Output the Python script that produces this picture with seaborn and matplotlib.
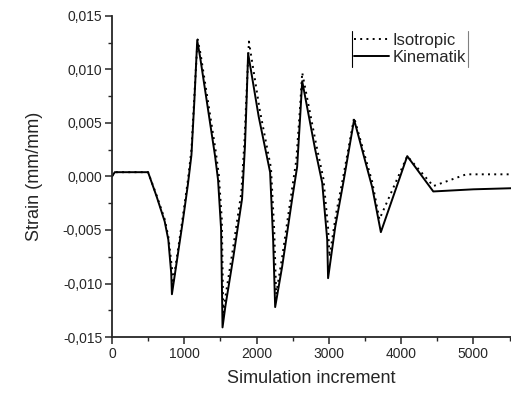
import numpy as np
import pandas as pd
import matplotlib
matplotlib.use("Agg")
import matplotlib.pyplot as plt
import matplotlib.ticker as mticker
from matplotlib.lines import Line2D
import seaborn as sns

# Kinematik hardening (solid)
kin_x = [0, 40, 500, 620, 730, 780, 820, 830, 980, 1050, 1100, 1140, 1180,
         1219, 1427, 1468, 1510, 1530,
         1570, 1680, 1800, 1840, 1865, 1884,
         2030, 2188, 2230, 2258, 2355, 2493, 2562, 2604, 2632,
         2812, 2909, 2978, 2990, 3089, 3200, 3350, 3600, 3720,
         4085, 4445, 5000, 5520]
kin_y = [0.0, 0.0004, 0.0004, -0.0019, -0.0042, -0.0059, -0.0090, -0.0110, -0.0042, -0.0008, 0.0020, 0.0070, 0.0127,
         0.0112, 0.0019, -0.0003, -0.0049, -0.0141,
         -0.0121, -0.0075, -0.0021, 0.0028, 0.0075, 0.0115,
         0.0056, 0.0004, -0.0059, -0.0122, -0.0084, -0.0021, 0.0009, 0.0056, 0.0089,
         0.0025, -0.0006, -0.0059, -0.0095, -0.0047, -0.0006, 0.0053, -0.0010, -0.0052,
         0.0019, -0.0014, -0.0012, -0.0011]

# Isotropic hardening (dotted)
iso_x = [0, 40, 500, 620, 730, 780, 830, 845, 980, 1050, 1100, 1140, 1185,
         1225, 1435, 1478, 1520, 1540,
         1580, 1680, 1790, 1835, 1865, 1895,
         2045, 2200, 2245, 2272, 2360, 2480, 2550, 2600, 2632,
         2825, 2925, 2990, 3010, 3100, 3200, 3350, 3600, 3700,
         4085, 4445, 4900, 5520]
iso_y = [0.0, 0.0004, 0.0004, -0.0018, -0.0040, -0.0056, -0.0085, -0.0100, -0.0038, -0.0004, 0.0025, 0.0075, 0.0128,
         0.0115, 0.0024, 0.0002, -0.0040, -0.0127,
         -0.0108, -0.0065, -0.0015, 0.0035, 0.0082, 0.0126,
         0.0062, 0.0008, -0.0050, -0.0110, -0.0073, -0.0017, 0.0015, 0.0062, 0.0097,
         0.0030, -0.0002, -0.0048, -0.0075, -0.0035, 0.0000, 0.0055, -0.0005, -0.0040,
         0.0019, -0.0009, 0.0002, 0.0002]

x_ticks = [0, 1000, 2000, 3000, 4000, 5000]
y_ticks = [-0.015, -0.010, -0.005, 0.000, 0.005, 0.010, 0.015]

df = pd.concat([
    pd.DataFrame({"inc": iso_x, "strain": iso_y, "model": "Isotropic"}),
    pd.DataFrame({"inc": kin_x, "strain": kin_y, "model": "Kinematik"}),
])

sns.set_style("ticks")
plt.rcParams["font.family"] = ["Liberation Sans", "DejaVu Sans"]

fig = plt.figure(figsize=(5.11, 3.97), dpi=100)
ax = fig.add_axes([0.219, 0.151, 0.781, 0.809])

sns.lineplot(data=df, x="inc", y="strain", style="model", sort=False,
             dashes={"Isotropic": (1, 2.2), "Kinematik": ""},
             color="black", linewidth=1.4, estimator=None, legend=False, ax=ax)

ax.set_xlim(0, 5520)
ax.set_ylim(-0.015, 0.015)
ax.set_xticks(x_ticks)
ax.set_yticks(y_ticks)
ax.xaxis.set_minor_locator(mticker.MultipleLocator(500))
ax.yaxis.set_minor_locator(mticker.MultipleLocator(0.0025))
ax.yaxis.set_major_formatter(mticker.FuncFormatter(lambda v, p: f"{v:.3f}".replace(".", ",").replace("-0,000", "0,000")))
ax.tick_params(which="major", direction="out", length=5, width=1.1, labelsize=10, pad=2)
ax.tick_params(which="minor", direction="out", length=3, width=1.0)
sns.despine(ax=ax)
for s in ("left", "bottom"):
    ax.spines[s].set_linewidth(1.3)

ax.set_xlabel("Simulation increment", fontsize=13, labelpad=7)
ax.set_ylabel("Strain (mm/mm)", fontsize=13, labelpad=14)

handles = [Line2D([], [], color="black", lw=1.4, dashes=(1, 2.2)),
           Line2D([], [], color="black", lw=1.4)]
leg = ax.legend(handles, ["Isotropic", "Kinematik"], loc="upper left",
                bbox_to_anchor=(0.58, 0.98), frameon=False, fontsize=12,
                handlelength=2.1, handletextpad=0.2, labelspacing=0.1,
                borderpad=0.15)

fig.canvas.draw()
bb = leg.get_window_extent().transformed(fig.transFigure.inverted())
fig.add_artist(Line2D([bb.x0, bb.x0], [bb.y0, bb.y1], color="black", lw=0.8))
fig.add_artist(Line2D([bb.x1, bb.x1], [bb.y0, bb.y1], color="gray", lw=0.8))

fig.savefig("out.png", dpi=100)
